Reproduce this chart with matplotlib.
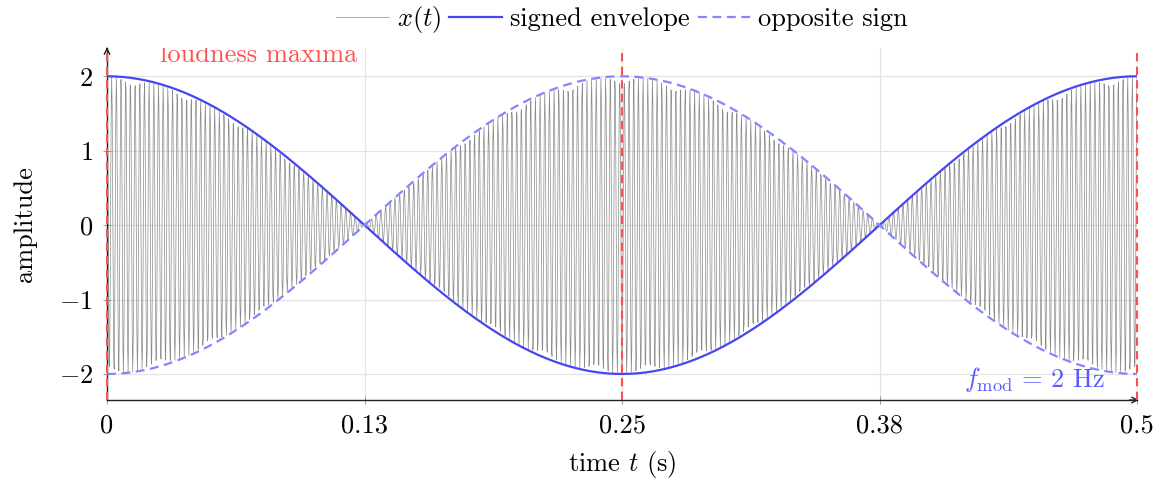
import numpy as np
import matplotlib
matplotlib.use("Agg")
import matplotlib.pyplot as plt

# ---- data / parameters ----
f_mod = 2.0          # Hz, envelope modulation
f_carrier = 440.0    # Hz, carrier
amp = 2.0
n_samples = 2001
t_start, t_end = 0.0, 0.5
maxima_t = [0.0, 0.25, 0.5]
xticks = [0.0, 0.125, 0.25, 0.375, 0.5]
xtick_labels = ["0", "0.13", "0.25", "0.38", "0.5"]
yticks = [-2, -1, 0, 1, 2]
ytick_labels = [r"$-2$", r"$-1$", r"$0$", r"$1$", r"$2$"]

t = np.linspace(t_start, t_end, n_samples)
env = amp * np.cos(2 * np.pi * f_mod * t)
x = env * np.cos(2 * np.pi * f_carrier * t)
t_env = np.linspace(t_start, t_end, 400)
env_s = amp * np.cos(2 * np.pi * f_mod * t_env)

plt.rcParams["font.family"] = ["cmr10"]
plt.rcParams["mathtext.fontset"] = "cm"
plt.rcParams["axes.formatter.use_mathtext"] = True
FS = 19

fig = plt.figure(figsize=(11.58, 4.83), dpi=100)
ax = fig.add_axes([0.0924, 0.1718, 0.8895, 0.7288])

blue = "#4646f2"
lblue = "#8585ff"
red = "#ff5050"

ax.plot(t, x, color="#8a8a8a", lw=0.5, label=r"$x(t)$", zorder=2)
ax.plot(t_env, env_s, color=blue, lw=1.6, label="signed envelope", zorder=3)
ax.plot(t_env, -env_s, color=lblue, lw=1.6, ls=(0, (4, 2.5)), label="opposite sign", zorder=3)
for m in maxima_t:
    ax.axvline(m, color=red, lw=1.5, ls=(0, (4, 2.5)), zorder=4, clip_on=False)

ax.set_xlim(t_start, t_end)
ax.set_ylim(-2.35, 2.38)
ax.set_xticks(xticks)
ax.set_xticklabels(xtick_labels, fontsize=FS)
ax.set_yticks(yticks)
ax.set_yticklabels(ytick_labels, fontsize=FS)
ax.grid(True, color="#e3e3e3", lw=0.9)
ax.set_axisbelow(True)
ax.tick_params(direction="inout", length=6, width=0.7, color="#999999", pad=7)

for s in ["top", "right"]:
    ax.spines[s].set_visible(False)
for s in ["left", "bottom"]:
    ax.spines[s].set_color("#222222")
    ax.spines[s].set_linewidth(1.0)
ax.annotate("", xy=(1.0045, 0), xytext=(0.99, 0), xycoords="axes fraction",
            arrowprops=dict(arrowstyle="->", color="#222222", lw=1.0))
ax.annotate("", xy=(0, 1.01), xytext=(0, 0.99), xycoords="axes fraction",
            arrowprops=dict(arrowstyle="->", color="#222222", lw=1.0))

ax.set_xlabel(r"time $t$ (s)", fontsize=FS, labelpad=8)
ax.set_ylabel("amplitude", fontsize=FS, labelpad=16)

ax.text(0.0257, 2.28, "loudness maxima", color=red, fontsize=FS, ha="left", va="center",
        clip_on=True)
ax.text(0.4845, -2.07, r"$f_{\mathrm{mod}}\,=\,2$ Hz", color="#5a5aff", fontsize=FS,
        ha="right", va="center")

leg = ax.legend(loc="lower center", bbox_to_anchor=(0.5, 1.0), ncol=3, frameon=False,
                fontsize=FS, handlelength=2.0, handletextpad=0.3, columnspacing=0.3,
                borderaxespad=0.1)

fig.savefig("out.png", dpi=100)
